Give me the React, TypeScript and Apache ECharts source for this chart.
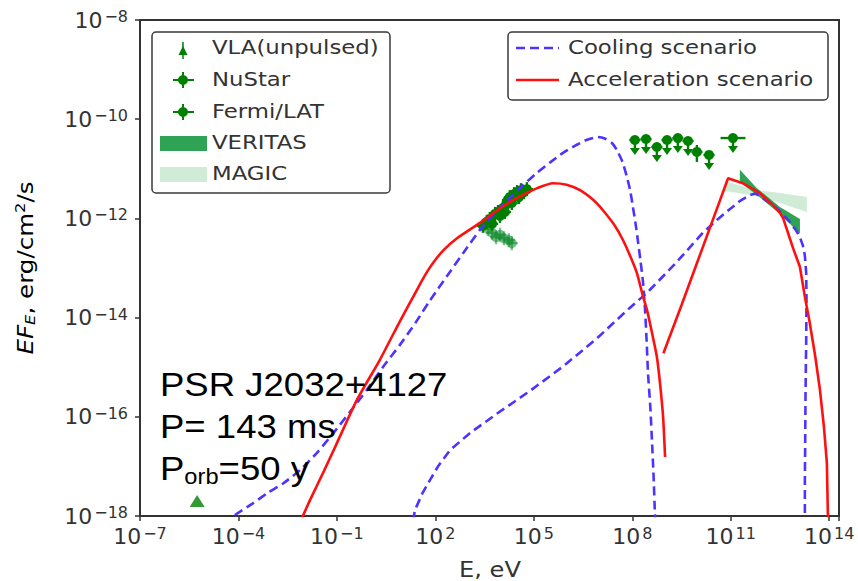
import React, { useEffect, useRef } from 'react';
import * as echarts from 'echarts';

// All values are [log10(E / eV), log10(E·F_E / erg cm^-2 s^-1)]
const X_MIN_EXP = -7;
const X_MAX_EXP = 14.3;
const X_TICK_STEP = 3;
const Y_MIN_EXP = -18;
const Y_MAX_EXP = -8;
const Y_TICK_STEP = 2;

const coolingSynchrotron: number[][] = [
  [-4.11, -17.98], [-3.55, -17.74], [-3.1, -17.53], [-2.63, -17.34], [-2.12, -17.07],
  [-1.6, -16.72], [-1.11, -16.33], [-0.6, -15.9], [-0.09, -15.46], [0.4, -15.0],
  [0.92, -14.55], [1.4, -14.1], [1.84, -13.65], [2.4, -13.12], [2.9, -12.65],
  [3.36, -12.23], [3.8, -11.9], [4.25, -11.6], [4.67, -11.33], [5.1, -11.08],
  [5.5, -10.87], [5.89, -10.68], [6.3, -10.52], [6.6, -10.42], [6.95, -10.36],
  [7.2, -10.4], [7.38, -10.48], [7.53, -10.62], [7.7, -10.86], [7.84, -11.17],
  [7.94, -11.45], [8.02, -11.77], [8.1, -12.1], [8.17, -12.44], [8.25, -12.85],
  [8.33, -13.3], [8.39, -13.85], [8.44, -14.5], [8.48, -15.12], [8.55, -15.8],
  [8.6, -16.47], [8.65, -17.2], [8.69, -17.94], [8.7, -18.1],
];

const coolingInverseCompton: number[][] = [
  [1.32, -18.1], [1.38, -17.88], [1.6, -17.55], [1.84, -17.27], [2.1, -16.98],
  [2.45, -16.67], [3.05, -16.33], [3.87, -15.94], [4.88, -15.48], [5.9, -14.98],
  [6.92, -14.42], [7.93, -13.8], [8.45, -13.5], [9.3, -12.92], [10.15, -12.29],
  [10.6, -12.02], [10.98, -11.81], [11.3, -11.64], [11.59, -11.53], [11.75, -11.5],
  [11.89, -11.55], [12.15, -11.67], [12.41, -11.8], [12.6, -11.93], [12.8, -12.07],
  [13.0, -12.25], [13.11, -12.38], [13.2, -12.55], [13.26, -12.75], [13.3, -13.1],
  [13.31, -13.6], [13.3, -14.5], [13.28, -15.5], [13.27, -16.5], [13.26, -17.3],
  [13.26, -18.1],
];

const accelSynchrotron: number[][] = [
  [-2.07, -18.05], [-1.82, -17.68], [-1.4, -17.1], [-1.0, -16.53], [-0.39, -15.66],
  [0.31, -14.85], [0.9, -14.1], [1.44, -13.44], [1.7, -13.13], [1.95, -12.88],
  [2.25, -12.64], [2.66, -12.4], [3.36, -12.09], [3.9, -11.83], [4.37, -11.63],
  [4.75, -11.5], [5.1, -11.39], [5.58, -11.29], [6.0, -11.32], [6.41, -11.43],
  [6.8, -11.62], [7.1, -11.83], [7.45, -12.13], [7.72, -12.44], [7.95, -12.78],
  [8.14, -13.1], [8.33, -13.58], [8.45, -13.85], [8.6, -14.3], [8.75, -14.79],
  [8.85, -15.35], [8.94, -16.0], [9.0, -16.81],
];

const accelInverseCompton: number[][] = [
  [8.95, -14.72], [9.5, -13.75], [10.0, -12.85], [10.5, -11.95], [10.92, -11.19],
  [11.37, -11.29], [11.89, -11.49], [12.29, -11.73], [12.5, -11.89], [12.6, -12.0],
  [12.75, -12.3], [12.9, -12.6], [13.11, -12.98], [13.26, -13.58], [13.41, -14.11],
  [13.58, -14.8], [13.72, -15.46], [13.84, -16.2], [13.93, -16.93], [13.96, -17.94],
  [13.97, -18.1],
];

const vlaPoints: number[][] = [[-5.26, -17.7]];

const nustarPoints: number[][] = [
  [3.45, -12.15], [3.57, -12.07], [3.66, -12.01], [3.73, -12.11], [3.82, -11.91],
  [3.91, -11.87], [3.97, -11.95], [4.06, -11.79], [4.12, -11.87], [4.15, -11.73],
  [4.21, -11.63], [4.27, -11.57], [4.33, -11.69], [4.4, -11.51], [4.49, -11.47],
  [4.55, -11.57], [4.61, -11.43], [4.7, -11.47], [4.79, -11.41],
];

const nustarFaintPoints: number[][] = [
  [3.6, -12.21], [3.73, -12.29], [3.85, -12.38], [3.97, -12.33], [4.09, -12.4],
  [4.24, -12.44], [4.33, -12.5],
];

const fermiPoints: number[][] = [
  [8.08, -10.42], [8.42, -10.4], [8.75, -10.56], [9.06, -10.42], [9.39, -10.38],
  [9.7, -10.44], [9.97, -10.66], [10.34, -10.72], [11.07, -10.38],
];
const fermiXErr: number[] = [0.17, 0.17, 0.17, 0.17, 0.17, 0.17, 0.17, 0.17, 0.38];
const fermiUpperLimit: number[] = [1, 1, 1, 1, 1, 1, 0, 1, 1];

const veritasUpper: number[][] = [[11.28, -11.02], [11.8, -11.39], [12.5, -11.77], [13.11, -12.01]];
const veritasLower: number[][] = [[11.28, -11.27], [11.8, -11.53], [12.5, -11.91], [13.11, -12.31]];
const magicUpper: number[][] = [[10.82, -11.25], [11.8, -11.43], [12.5, -11.49], [13.32, -11.57]];
const magicLower: number[][] = [[10.82, -11.45], [11.8, -11.55], [12.5, -11.69], [13.32, -11.87]];

const legendLeftLabels = ['VLA(unpulsed)', 'NuStar', 'Fermi/LAT', 'VERITAS', 'MAGIC'];
const legendRightLabels = ['Cooling scenario', 'Acceleration scenario'];
const annotationLines = ['PSR J2032+4127', 'P= 143 ms'];
const annotationOrbit = ['P', 'orb', '=50 y'];
const xAxisTitle = 'E, eV';

// ---- styles ----
const DV = '"DejaVu Sans", "Noto Sans", sans-serif';
const ARIAL = '"Liberation Sans", Arial, sans-serif';
const BLUE = '#4d33ff';
const RED = '#ff1010';
const GREEN = '#008000';
const TXT = '#333333';
const VERITAS_FILL = 'rgba(18,150,60,0.88)';
const MAGIC_FILL = 'rgba(40,165,70,0.22)';

const shiftX = (p: number[]) => [p[0] - X_MIN_EXP, p[1]];

const supLabel = (exp: number) => `{b|10}{s|${exp < 0 ? '\u2212' : ''}${Math.abs(exp)}}`;

const tickRich = {
  b: { fontSize: 22, fontFamily: DV, color: TXT },
  s: { fontSize: 16, fontFamily: DV, color: TXT, padding: [0, 0, 7, 2] },
};

function polygonSeries(upper: number[][], lower: number[][], fill: string, z: number) {
  return {
    type: 'custom',
    coordinateSystem: 'cartesian2d',
    silent: true,
    z,
    data: [shiftX(upper[0])],
    renderItem: (_p: any, api: any) => {
      const pts = upper
        .map((p) => api.coord(shiftX(p)))
        .concat(lower.slice().reverse().map((p) => api.coord(shiftX(p))));
      return { type: 'polygon', shape: { points: pts }, style: { fill } };
    },
  };
}

function errPointSeries(points: number[][], color: string, z: number, r: number) {
  return {
    type: 'custom',
    coordinateSystem: 'cartesian2d',
    silent: true,
    z,
    data: points.map(shiftX),
    renderItem: (_p: any, api: any) => {
      const c = api.coord([api.value(0), api.value(1)]);
      const st = { stroke: color, lineWidth: 2.4 };
      return {
        type: 'group',
        children: [
          { type: 'line', shape: { x1: c[0] - 6, y1: c[1], x2: c[0] + 6, y2: c[1] }, style: st },
          { type: 'line', shape: { x1: c[0], y1: c[1] - 7, x2: c[0], y2: c[1] + 7 }, style: st },
          { type: 'circle', shape: { cx: c[0], cy: c[1], r }, style: { fill: color } },
        ],
      };
    },
  };
}

export default function App() {
  const ref = useRef<HTMLDivElement>(null);

  useEffect(() => {
    if (!ref.current) return;
    const chart = echarts.init(ref.current, undefined, { renderer: 'svg' });

    const fermiData = fermiPoints.map((p, i) => [p[0] - X_MIN_EXP, p[1], fermiXErr[i], fermiUpperLimit[i]]);

    const lineSeries = (data: number[][], color: string, dashed: boolean, smooth: number) => ({
      type: 'line',
      data: data.map(shiftX),
      showSymbol: false,
      symbol: 'none',
      silent: true,
      clip: true,
      smooth,
      z: 5,
      lineStyle: { color, width: 2.6, type: dashed ? [9, 5] : 'solid', cap: 'butt' },
    });

    const legendLeftY = [48, 80, 112, 143, 174];
    const legendRightY = [48, 80];

    const graphic: any[] = [
      // left legend box
      { type: 'rect', z: 20, shape: { x: 152, y: 32, width: 238, height: 161, r: 4 },
        style: { fill: 'rgba(255,255,255,0.85)', stroke: '#3a3a3a', lineWidth: 1.5 } },
      // VLA marker
      { type: 'line', z: 21, shape: { x1: 183, y1: 42, x2: 183, y2: 59 }, style: { stroke: GREEN, lineWidth: 1.5 } },
      { type: 'polygon', z: 21, shape: { points: [[178.5, 55], [187.5, 55], [183, 46]] }, style: { fill: GREEN } },
      // NuStar / Fermi markers
      ...[legendLeftY[1], legendLeftY[2]].flatMap((y) => [
        { type: 'line', z: 21, shape: { x1: 173, y1: y, x2: 194, y2: y }, style: { stroke: GREEN, lineWidth: 2 } },
        { type: 'line', z: 21, shape: { x1: 183, y1: y - 8, x2: 183, y2: y + 8 }, style: { stroke: GREEN, lineWidth: 2 } },
        { type: 'circle', z: 21, shape: { cx: 183, cy: y, r: 5 }, style: { fill: GREEN } },
      ]),
      // VERITAS / MAGIC patches
      { type: 'rect', z: 21, shape: { x: 160, y: 136, width: 47, height: 15 }, style: { fill: VERITAS_FILL } },
      { type: 'rect', z: 21, shape: { x: 160, y: 167, width: 47, height: 15 }, style: { fill: MAGIC_FILL } },
      ...legendLeftLabels.map((t, i) => ({
        type: 'text', z: 21, x: 212, y: legendLeftY[i], scaleX: 1.2,
        style: { text: t, fill: TXT, fontFamily: DV, fontSize: 19, align: 'left', verticalAlign: 'middle' },
      })),
      // right legend box
      { type: 'rect', z: 20, shape: { x: 508, y: 32, width: 320, height: 68, r: 4 },
        style: { fill: 'rgba(255,255,255,0.85)', stroke: '#3a3a3a', lineWidth: 1.5 } },
      { type: 'line', z: 21, shape: { x1: 516, y1: legendRightY[0], x2: 559, y2: legendRightY[0] },
        style: { stroke: BLUE, lineWidth: 2.5, lineDash: [9, 5] } },
      { type: 'line', z: 21, shape: { x1: 516, y1: legendRightY[1], x2: 559, y2: legendRightY[1] },
        style: { stroke: RED, lineWidth: 2.5 } },
      ...legendRightLabels.map((t, i) => ({
        type: 'text', z: 21, x: 568, y: legendRightY[i], scaleX: 1.2,
        style: { text: t, fill: TXT, fontFamily: DV, fontSize: 19, align: 'left', verticalAlign: 'middle' },
      })),
      // annotation
      ...annotationLines.map((t, i) => ({
        type: 'text', z: 22, x: 160, y: 384 + i * 42, scaleX: 1.075,
        style: { text: t, fill: '#000', fontFamily: ARIAL, fontSize: 34, align: 'left', verticalAlign: 'middle' },
      })),
      {
        type: 'text', z: 22, x: 160, y: 468, scaleX: 1.075,
        style: {
          text: `{m|${annotationOrbit[0]}}{s|${annotationOrbit[1]}}{m|${annotationOrbit[2]}}`,
          align: 'left', verticalAlign: 'middle',
          rich: {
            m: { fontSize: 34, fontFamily: ARIAL, color: '#000' },
            s: { fontSize: 22, fontFamily: ARIAL, color: '#000', padding: [16, 0, 0, 0] },
          },
        },
      },
      // axis titles
      {
        type: 'text', z: 22, x: 490, y: 570, scaleX: 1.15,
        style: { text: xAxisTitle, fill: TXT, fontFamily: DV, fontSize: 21, align: 'center', verticalAlign: 'middle' },
      },
      {
        type: 'text', z: 22, x: 26, y: 268, rotation: Math.PI / 2, scaleX: 1.17,
        style: {
          text: '{i|EF}{sub|E}{n|, erg/cm}{sup|2}{n|/s}',
          align: 'center', verticalAlign: 'middle',
          rich: {
            i: { fontSize: 21, fontFamily: DV, fontStyle: 'italic', color: TXT },
            sub: { fontSize: 14, fontFamily: DV, fontStyle: 'italic', color: TXT, padding: [9, 0, 0, 0] },
            n: { fontSize: 21, fontFamily: DV, color: TXT },
            sup: { fontSize: 14, fontFamily: DV, color: TXT, padding: [0, 0, 11, 0] },
          },
        },
      },
    ];

    chart.setOption({
      animation: false,
      backgroundColor: '#ffffff',
      grid: {
        left: 140, right: 19, top: 20, bottom: 65, containLabel: false,
        show: true, borderColor: '#333', borderWidth: 2, backgroundColor: 'transparent',
      },
      xAxis: {
        type: 'value',
        min: 0,
        max: X_MAX_EXP - X_MIN_EXP,
        interval: X_TICK_STEP,
        axisLine: { show: false },
        splitLine: { show: false },
        axisTick: { show: true, length: 5, lineStyle: { color: '#333', width: 1.5 } },
        axisLabel: {
          margin: 9,
          rich: tickRich,
          formatter: (v: number) => {
            const r = Math.round(v);
            if (Math.abs(v - r) > 1e-6 || r % X_TICK_STEP !== 0) return '';
            return supLabel(r + X_MIN_EXP);
          },
        },
      },
      yAxis: {
        type: 'value',
        min: Y_MIN_EXP,
        max: Y_MAX_EXP,
        interval: Y_TICK_STEP,
        axisLine: { show: false },
        splitLine: { show: false },
        axisTick: { show: true, length: 5, lineStyle: { color: '#333', width: 1.5 } },
        axisLabel: {
          margin: 12,
          rich: tickRich,
          formatter: (v: number) => supLabel(Math.round(v)),
        },
      },
      series: [
        polygonSeries(magicUpper, magicLower, MAGIC_FILL, 1),
        polygonSeries(veritasUpper, veritasLower, VERITAS_FILL, 2),
        {
          type: 'scatter',
          data: vlaPoints.map(shiftX),
          symbol: 'triangle',
          symbolSize: [15, 12],
          itemStyle: { color: GREEN },
          silent: true,
          z: 3,
        },
        errPointSeries(nustarFaintPoints, 'rgba(20,140,50,0.55)', 3, 5),
        errPointSeries(nustarPoints, GREEN, 3, 5),
        {
          type: 'custom',
          coordinateSystem: 'cartesian2d',
          silent: true,
          z: 3,
          data: fermiData,
          renderItem: (_p: any, api: any) => {
            const x = api.value(0), y = api.value(1), xe = api.value(2), ul = api.value(3);
            const c = api.coord([x, y]);
            const l = api.coord([x - xe, y]);
            const r = api.coord([x + xe, y]);
            const st = { stroke: GREEN, lineWidth: 2.4 };
            const children: any[] = [
              { type: 'line', shape: { x1: l[0], y1: c[1], x2: r[0], y2: c[1] }, style: st },
            ];
            if (ul) {
              children.push(
                { type: 'line', shape: { x1: c[0], y1: c[1], x2: c[0], y2: c[1] + 10 }, style: st },
                { type: 'polygon', shape: { points: [[c[0] - 5, c[1] + 8], [c[0] + 5, c[1] + 8], [c[0], c[1] + 15]] }, style: { fill: GREEN } },
              );
            } else {
              children.push({ type: 'line', shape: { x1: c[0], y1: c[1] - 7, x2: c[0], y2: c[1] + 10 }, style: st });
            }
            children.push({ type: 'circle', shape: { cx: c[0], cy: c[1], r: 5 }, style: { fill: GREEN } });
            return { type: 'group', children };
          },
        },
        lineSeries(coolingSynchrotron, BLUE, true, 0.2),
        lineSeries(coolingInverseCompton, BLUE, true, 0),
        lineSeries(accelSynchrotron, RED, false, 0.2),
        lineSeries(accelInverseCompton, RED, false, 0),
      ],
      graphic,
    });

    return () => chart.dispose();
  }, []);

  return (
    <div
      ref={ref}
      style={{ position: 'fixed', left: 0, top: 0, width: 858, height: 581, background: '#fff' }}
    />
  );
}
